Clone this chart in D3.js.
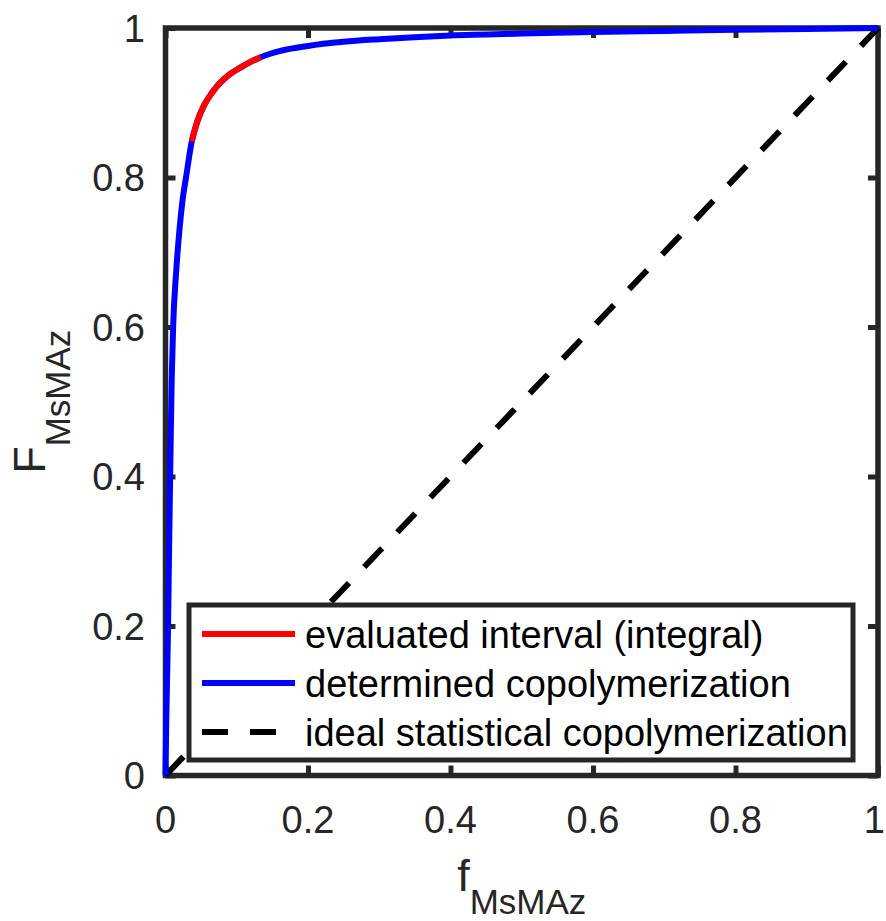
<!DOCTYPE html>
<html>
<head>
<meta charset="utf-8">
<script src="https://cdn.jsdelivr.net/npm/d3@7"></script>
<style>
  html, body { margin: 0; padding: 0; background: #fff; }
  svg { display: block; font-family: "Liberation Sans", Arial, Helvetica, sans-serif; }
</style>
</head>
<body>
<svg id="chart" width="886" height="921"></svg>
<script>
// Monomer feed fraction f and copolymer composition F for MsMAz
const feedFraction = [0, 0.0010, 0.0021, 0.0036, 0.0050, 0.0065, 0.0087, 0.0107, 0.0147, 0.0196, 0.0240, 0.0288,
  0.0368, 0.045, 0.055, 0.065, 0.075, 0.090, 0.105, 0.120, 0.1336,
  0.160, 0.200, 0.250, 0.300, 0.400, 0.500, 0.600, 0.700, 0.800, 0.900, 1.000];
const copolymerFraction = [0, 0.070, 0.124, 0.200, 0.300, 0.400, 0.530, 0.600, 0.670, 0.730, 0.770, 0.800,
  0.848, 0.876, 0.898, 0.913, 0.925, 0.938, 0.947, 0.955, 0.961,
  0.969, 0.976, 0.9815, 0.985, 0.990, 0.9925, 0.9945, 0.996, 0.9975, 0.9988, 1.000];
// Bounds of the evaluated (integral) interval in f
const evaluatedInterval = [0.0368, 0.1336];
// Ideal statistical copolymerization F = f
const idealF = [0, 1];
const xTicks = [0, 0.2, 0.4, 0.6, 0.8, 1];
const yTicks = [0, 0.2, 0.4, 0.6, 0.8, 1];
const legendLabels = ["evaluated interval (integral)", "determined copolymerization", "ideal statistical copolymerization"];

const W = 886, H = 921;
const axisColor = "#262626";
const plot = { left: 165.5, right: 878, top: 28, bottom: 775.5 };

const svg = d3.select("#chart");
const x = d3.scaleLinear().domain([0, 1]).range([plot.left, plot.right]);
const y = d3.scaleLinear().domain([0, 1]).range([plot.bottom, plot.top]);

const curve = feedFraction.map((f, i) => ({ f, F: copolymerFraction[i] }));
const evaluated = curve.filter(d => d.f >= evaluatedInterval[0] - 1e-9 && d.f <= evaluatedInterval[1] + 1e-9);
const ideal = idealF.map(v => ({ f: v, F: v }));

// Axes box with inward ticks on all four sides
const tickLen = 10;
const axisG = svg.append("g");
axisG.append("rect")
  .attr("x", plot.left).attr("y", plot.top)
  .attr("width", plot.right - plot.left).attr("height", plot.bottom - plot.top)
  .attr("fill", "none").attr("stroke", axisColor).attr("stroke-width", 5.5);

const bottomAxis = d3.axisBottom(x).tickValues(xTicks).tickSize(-tickLen).tickFormat("");
const topAxis = d3.axisTop(x).tickValues(xTicks).tickSize(-tickLen).tickFormat("");
const leftAxis = d3.axisLeft(y).tickValues(yTicks).tickSize(-tickLen).tickFormat("");
const rightAxis = d3.axisRight(y).tickValues(yTicks).tickSize(-tickLen).tickFormat("");

function styleAxis(g) {
  g.select(".domain").remove();
  g.selectAll(".tick line").attr("stroke", axisColor).attr("stroke-width", 5);
}
axisG.append("g").attr("transform", `translate(0,${plot.bottom})`).call(bottomAxis).call(styleAxis);
axisG.append("g").attr("transform", `translate(0,${plot.top})`).call(topAxis).call(styleAxis);
axisG.append("g").attr("transform", `translate(${plot.left},0)`).call(leftAxis).call(styleAxis);
axisG.append("g").attr("transform", `translate(${plot.right},0)`).call(rightAxis).call(styleAxis);

// Tick labels (the last x label is kept inside the page edge)
const fmt = d => String(d);
svg.append("g").selectAll("text").data(xTicks).join("text")
  .attr("x", d => x(d)).attr("y", 833)
  .attr("text-anchor", "middle")
  .attr("font-size", 38).attr("fill", axisColor)
  .text(fmt)
  .each(function (d) {
    const half = this.getComputedTextLength() / 2;
    if (x(d) + half > W - 1) d3.select(this).attr("x", W - 1 - half);
  });
svg.append("g").selectAll("text").data(yTicks).join("text")
  .attr("x", 145).attr("y", d => y(d) + 13.5)
  .attr("text-anchor", "end")
  .attr("font-size", 38).attr("fill", axisColor)
  .text(fmt);

// Axis labels with subscripts
const xLabel = svg.append("text")
  .attr("x", (plot.left + plot.right) / 2).attr("y", 891)
  .attr("text-anchor", "middle").attr("fill", axisColor);
xLabel.append("tspan").attr("font-size", 45).text("f");
xLabel.append("tspan").attr("font-size", 35).attr("dy", 23).text("MsMAz");

const yLabel = svg.append("text")
  .attr("transform", `translate(45,${(plot.top + plot.bottom) / 2}) rotate(-90)`)
  .attr("text-anchor", "middle").attr("fill", axisColor);
yLabel.append("tspan").attr("font-size", 45).text("F");
yLabel.append("tspan").attr("font-size", 35).attr("dy", 25).text("MsMAz");

// Data lines
const line = d3.line().x(d => x(d.f)).y(d => y(d.F)).curve(d3.curveMonotoneX);
const lineG = svg.append("g");
lineG.append("path").datum(ideal)
  .attr("d", d3.line().x(d => x(d.f)).y(d => y(d.F)))
  .attr("fill", "none").attr("stroke", "#000").attr("stroke-width", 6)
  .attr("stroke-dasharray", "26,22");
lineG.append("path").datum(curve)
  .attr("d", line)
  .attr("fill", "none").attr("stroke", "#0000ff").attr("stroke-width", 6)
  .attr("stroke-linejoin", "round");
lineG.append("path").datum(evaluated)
  .attr("d", line)
  .attr("fill", "none").attr("stroke", "#ff0000").attr("stroke-width", 6)
  .attr("stroke-linejoin", "round");

// Legend
const legend = { left: 189, right: 853, top: 605, bottom: 760 };
const legendG = svg.append("g");
legendG.append("rect")
  .attr("x", legend.left).attr("y", legend.top)
  .attr("width", legend.right - legend.left).attr("height", legend.bottom - legend.top)
  .attr("fill", "#fff").attr("stroke", axisColor).attr("stroke-width", 5);
const legendStyles = [
  { color: "#ff0000", dash: null },
  { color: "#0000ff", dash: null },
  { color: "#000000", dash: "26,22" }
];
const rowY = d3.scalePoint().domain(d3.range(legendLabels.length)).range([634, 732]);
legendLabels.forEach((label, i) => {
  const yy = rowY(i);
  legendG.append("line")
    .attr("x1", 202).attr("x2", 295).attr("y1", yy).attr("y2", yy)
    .attr("stroke", legendStyles[i].color).attr("stroke-width", 6)
    .attr("stroke-dasharray", legendStyles[i].dash);
  legendG.append("text")
    .attr("x", 305).attr("y", yy + 13.5)
    .attr("font-size", 38).attr("fill", "#000")
    .text(label);
});
</script>
</body>
</html>
